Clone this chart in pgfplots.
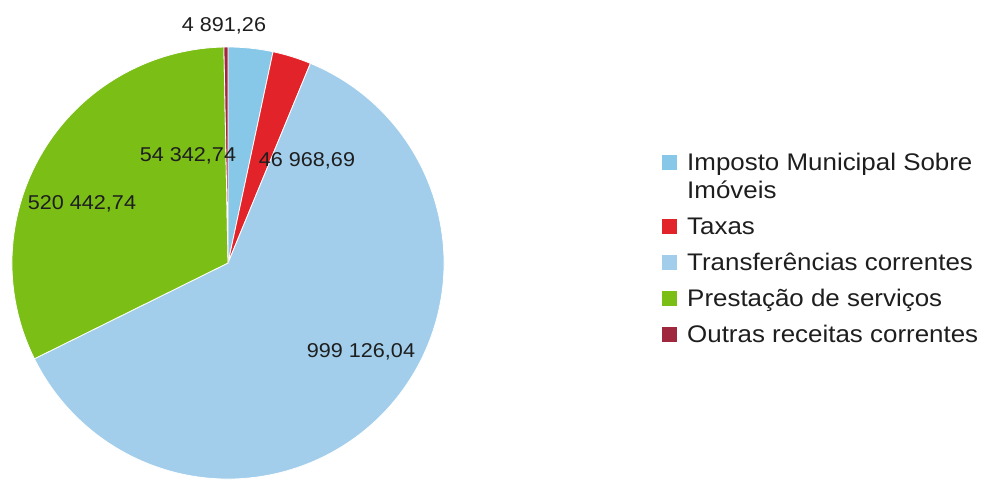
\documentclass[border=0pt]{standalone}
\usepackage{pgfplots}
\pgfplotsset{compat=1.18}
\usepackage{pgfplotstable}
\usepackage{fontspec}
\setmainfont[FakeStretch=1.08]{Liberation Sans}

\definecolor{pie0}{RGB}{135,200,232}
\definecolor{pie1}{RGB}{226,36,42}
\definecolor{pie2}{RGB}{162,206,236}
\definecolor{pie3}{RGB}{122,190,22}
\definecolor{pie4}{RGB}{160,40,62}
\definecolor{txt}{RGB}{30,30,30}

% receitas correntes
\pgfplotstableread{
value
54342.74
46968.69
999126.04
520442.74
4891.26
}\piedata

% angles, clockwise from the top
\def\pietotal{0}
\pgfplotstableforeachcolumnelement{value}\of\piedata\as\v{\xdef\pietotal{\fpeval{\pietotal+\v}}}
\def\piestart{90}
\pgfplotstableforeachcolumnelement{value}\of\piedata\as\v{%
  \expandafter\xdef\csname pieA\pgfplotstablerow\endcsname{\piestart}%
  \xdef\piestart{\fpeval{\piestart-360*\v/\pietotal}}%
  \expandafter\xdef\csname pieB\pgfplotstablerow\endcsname{\piestart}}

\pgfplotsset{
  pie legend/.style={legend image code/.code={
    \path[draw=none, fill=none] (0pt,-10.5pt) rectangle (25pt,10.5pt);
    \fill[#1, draw=none] (0pt,-4.5pt) rectangle (15pt,10.5pt);}},
  pie legend first/.style={legend image code/.code={
    \path[draw=none, fill=none] (0pt,-24.5pt) rectangle (25pt,24.5pt);
    \fill[#1, draw=none] (0pt,9.5pt) rectangle (15pt,24.5pt);}},
}

\begin{document}
\begin{tikzpicture}
\begin{axis}[
    x=1pt, y=1pt,
    xmin=0, xmax=981, ymin=0, ymax=479,
    hide axis, clip=false,
    legend cell align=left,
    legend style={at={(axis cs:662,330)}, anchor=north west,
      draw=none, fill=none, inner sep=0pt, row sep=4pt,
      font=\fontsize{24}{28}\selectfont, text=txt,
      nodes={inner xsep=0pt, inner ysep=2pt, text depth=, align=left}},
  ]
  \pgfplotsinvokeforeach{0,...,4}{
    \fill[pie#1, draw=white, line width=0.8pt] (axis cs:228,216)
      -- ++(\csname pieA#1\endcsname:216pt)
      arc[start angle=\csname pieA#1\endcsname, end angle=\csname pieB#1\endcsname, radius=216pt]
      -- cycle;
  }
  \begin{scope}[font=\fontsize{20}{24}\selectfont, text=txt]
    \node at (axis cs:224,453) {4 891,26};
    \node at (axis cs:188,323) {54 342,74};
    \node at (axis cs:307,318) {46 968,69};
    \node at (axis cs:82,275) {520 442,74};
    \node at (axis cs:361,127) {999 126,04};
  \end{scope}

  \addlegendimage{pie legend first=pie0}
  \addlegendentry{\strut Imposto Municipal Sobre\\\strut Imóveis}
  \addlegendimage{pie legend=pie1}
  \addlegendentry{\strut Taxas}
  \addlegendimage{pie legend=pie2}
  \addlegendentry{\strut Transferências correntes}
  \addlegendimage{pie legend=pie3}
  \addlegendentry{\strut Prestação de serviços}
  \addlegendimage{pie legend=pie4}
  \addlegendentry{\strut Outras receitas correntes}
\end{axis}
\pgfresetboundingbox
\path (0,0) rectangle (981pt,479pt);
\end{tikzpicture}
\end{document}
